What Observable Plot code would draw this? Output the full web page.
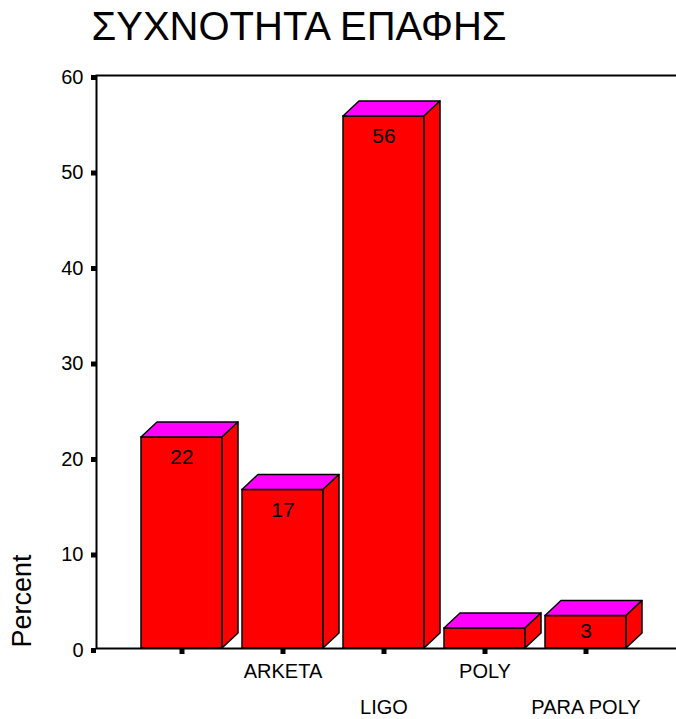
<!DOCTYPE html>
<html>
<head>
<meta charset="utf-8">
<script src="https://cdn.jsdelivr.net/npm/d3@7"></script>
<script src="https://cdn.jsdelivr.net/npm/@observablehq/plot@0.6"></script>
<style>
  html, body { margin: 0; padding: 0; background: #fff; }
  svg { display: block; }
</style>
</head>
<body>
<div id="chart"></div>
<script>
const titleText = "ΣΥΧΝΟΤΗΤΑ ΕΠΑΦΗΣ";
const yLabel = "Percent";
const categories = ["", "ARKETA", "LIGO", "POLY", "PARA POLY"];
const percents = [22.1, 16.6, 55.7, 2.1, 3.4];
const valueLabels = ["22", "17", "56", "", "3"];
const yTicks = [0, 10, 20, 30, 40, 50, 60];
const upperRowLabels = ["ARKETA", "POLY"];
const lowerRowLabels = ["", "LIGO", "PARA POLY"];

const rows = categories.map((c, i) => ({cat: c, val: percents[i], label: valueLabels[i]}));

const FRONT = "#ff0000", TOP = "#ff00ff", SIDE = "#ff0000";
const DX = 16, DY = 15;

function cube3d(index, scales, values, dimensions, context, next) {
  const g = next(index, scales, values, dimensions, context);
  const bwRaw = scales.x.bandwidth;
  const bw = typeof bwRaw === "function" ? bwRaw() : bwRaw;
  const X = values.x, Y1 = values.y1, Y2 = values.y2;
  const sel = d3.select(g);
  for (const i of index) {
    const x1 = X[i], x2 = X[i] + bw;
    const yt = Math.min(Y1[i], Y2[i]), yb = Math.max(Y1[i], Y2[i]);
    sel.append("path")
      .attr("d", `M${x1},${yt}L${x2},${yt}L${x2 + DX},${yt - DY}L${x1 + DX},${yt - DY}Z`)
      .attr("fill", TOP).attr("stroke", "black").attr("stroke-width", 1.5).attr("stroke-linejoin", "round");
    sel.append("path")
      .attr("d", `M${x2},${yt}L${x2 + DX},${yt - DY}L${x2 + DX},${yb - DY}L${x2},${yb}Z`)
      .attr("fill", SIDE).attr("stroke", "black").attr("stroke-width", 1.5).attr("stroke-linejoin", "round");
  }
  return g;
}

const chart = Plot.plot({
  width: 676,
  height: 719,
  marginLeft: 96,
  marginRight: -2,
  marginTop: 75,
  marginBottom: 71,
  style: {fontFamily: "'Liberation Sans', Arial, sans-serif", background: "white", color: "black"},
  x: {type: "band", domain: categories, range: [129.5, 637], paddingInner: 0.2, paddingOuter: 0.1, align: 0.5, label: null},
  y: {domain: [0, 60], label: null},
  marks: [
    Plot.barY(rows, {x: "cat", y: "val", fill: FRONT, stroke: "black", strokeWidth: 1.5, render: cube3d}),
    Plot.frame({stroke: "black", strokeWidth: 2}),
    Plot.axisY({ticks: yTicks, tickSize: 5, tickPadding: 8, strokeWidth: 5, fontSize: 20, fill: "black", dy: 2, label: null, tickFormat: d => String(d)}),
    Plot.axisX({ticks: upperRowLabels, tickSize: 6, tickPadding: 9, strokeWidth: 5, fontSize: 20, fill: "black", label: null}),
    Plot.axisX({ticks: lowerRowLabels, tickSize: 6, tickPadding: 45, strokeWidth: 5, fontSize: 20, fill: "black", label: null}),
    Plot.text(rows, {filter: d => d.val >= 10, x: "cat", y: "val", text: "label", dy: 20, fontSize: 21, fill: "black", lineAnchor: "middle"}),
    Plot.text(rows, {filter: d => d.val < 10 && d.label !== "", x: "cat", y: "val", text: "label", dy: 15, fontSize: 21, fill: "black", lineAnchor: "middle"}),
    Plot.text([titleText], {frameAnchor: "top-left", text: d => d, dx: -5, dy: -48, fontSize: 40, fill: "black", textAnchor: "start", lineAnchor: "middle"}),
    Plot.text([yLabel], {frameAnchor: "left", text: d => d, dx: -74, dy: 239, rotate: -90, fontSize: 27, fill: "black", textAnchor: "middle", lineAnchor: "middle"})
  ]
});
document.getElementById("chart").appendChild(chart);
</script>
</body>
</html>
